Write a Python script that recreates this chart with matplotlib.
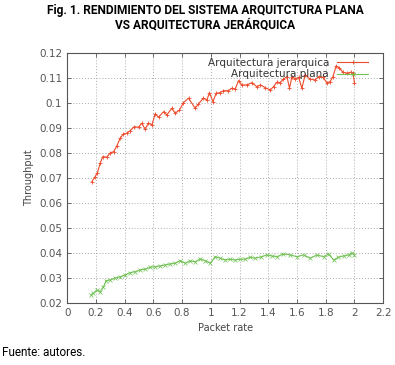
import matplotlib
matplotlib.use("Agg")
import numpy as np
from matplotlib import pyplot as plt

# Arquitectura jerarquica
x_jer = [0.172, 0.195, 0.211, 0.23, 0.248, 0.276, 0.30, 0.323, 0.346, 0.369,
         0.392, 0.415, 0.439, 0.467, 0.497, 0.52, 0.543, 0.566, 0.59, 0.613,
         0.636, 0.671, 0.694, 0.729, 0.752, 0.782, 0.81, 0.845, 0.891, 0.914,
         0.949, 0.973, 0.991, 1.015, 1.038, 1.065, 1.088, 1.123, 1.147, 1.17,
         1.193, 1.217, 1.251, 1.286, 1.321, 1.345, 1.379, 1.414, 1.437, 1.46,
         1.483, 1.506, 1.53, 1.548, 1.565, 1.588, 1.611, 1.634, 1.657, 1.692,
         1.727, 1.75, 1.78, 1.808, 1.831, 1.85, 1.873, 1.896, 1.92, 1.948,
         1.976, 1.99, 2.0]
y_jer = [0.0685, 0.0705, 0.0721, 0.0759, 0.0785, 0.0783, 0.0800, 0.0805, 0.0828, 0.0859,
         0.0876, 0.0879, 0.0889, 0.0905, 0.0903, 0.0919, 0.0895, 0.0919, 0.0912, 0.0956,
         0.0943, 0.0965, 0.0952, 0.0979, 0.0959, 0.0972, 0.1001, 0.1019, 0.0979, 0.0996,
         0.1019, 0.1012, 0.1041, 0.1005, 0.1039, 0.1041, 0.1049, 0.1049, 0.1059, 0.1055,
         0.1089, 0.1072, 0.1072, 0.1081, 0.1065, 0.1072, 0.1061, 0.1052, 0.1065, 0.1083,
         0.1081, 0.1095, 0.1105, 0.1059, 0.1105, 0.1095, 0.1103, 0.1059, 0.1112, 0.1095,
         0.1092, 0.1105, 0.1103, 0.1081, 0.1085, 0.1105, 0.1148, 0.1139, 0.1123, 0.1119,
         0.1123, 0.1121, 0.1081]

# Arquitectura plana
x_pla = [0.165, 0.183, 0.207, 0.23, 0.253, 0.272, 0.30, 0.334, 0.369, 0.404,
         0.439, 0.474, 0.508, 0.543, 0.578, 0.613, 0.648, 0.682, 0.717, 0.752,
         0.787, 0.822, 0.857, 0.891, 0.926, 0.961, 0.996, 1.031, 1.065, 1.10,
         1.135, 1.17, 1.205, 1.24, 1.274, 1.309, 1.35, 1.39, 1.425, 1.46,
         1.506, 1.553, 1.60, 1.646, 1.692, 1.739, 1.785, 1.82, 1.855, 1.889,
         1.924, 1.959, 1.982, 2.0]
y_pla = [0.0232, 0.0239, 0.0252, 0.0245, 0.0265, 0.0289, 0.0292, 0.0299, 0.0305, 0.0312,
         0.0321, 0.0325, 0.0332, 0.0335, 0.0343, 0.0345, 0.0348, 0.0352, 0.0356, 0.0359,
         0.0369, 0.0359, 0.0368, 0.0365, 0.0376, 0.0369, 0.0359, 0.0385, 0.0379, 0.0372,
         0.0375, 0.0372, 0.0375, 0.0375, 0.0383, 0.0379, 0.0384, 0.0392, 0.0388, 0.0385,
         0.0396, 0.0392, 0.0385, 0.0392, 0.0379, 0.0392, 0.0385, 0.0396, 0.0372, 0.0383,
         0.0388, 0.0392, 0.0401, 0.0392]

xticks = [0, 0.2, 0.4, 0.6, 0.8, 1, 1.2, 1.4, 1.6, 1.8, 2, 2.2]
xticklabels = ["0", "0.2", "0.4", "0.6", "0.8", "1", "1.2", "1.4", "1.6", "1.8", "2", "2.2"]
yticks = [0.02, 0.03, 0.04, 0.05, 0.06, 0.07, 0.08, 0.09, 0.1, 0.11, 0.12]
yticklabels = ["0.02", "0.03", "0.04", "0.05", "0.06", "0.07", "0.08", "0.09", "0.1", "0.11", "0.12"]

fig = plt.figure(figsize=(3.95, 3.65), dpi=100)
ax = fig.add_axes([0.170, 0.170, 0.800, 0.685])

ax.plot(x_jer, y_jer, color='#ee4b2b', lw=0.8, marker='+', ms=3.5, mew=0.6,
        label='Arquitectura jerarquica')
ax.plot(x_pla, y_pla, color='#72c255', lw=0.8, marker='x', ms=2.5, mew=0.5,
        label='Arquitectura plana')

ax.set_xlim(0, 2.2)
ax.set_ylim(0.02, 0.12)
ax.set_xticks(xticks)
ax.set_xticklabels(xticklabels)
ax.set_yticks(yticks)
ax.set_yticklabels(yticklabels)
ax.tick_params(direction='in', top=True, right=True, labelsize=7.5,
               labelcolor='#555555', length=3, width=0.6, color='#555555')
ax.grid(True, ls=(0, (1, 2)), color='#aaaaaa', lw=0.7)
for s in ax.spines.values():
    s.set_color('#555555')
    s.set_linewidth(0.8)

ax.set_xlabel("Packet rate", fontsize=7, color='#444444', labelpad=4)
ax.set_ylabel("Throughput", fontsize=7, color='#444444', labelpad=4)

leg = ax.legend(loc='upper right', frameon=False, markerfirst=False, fontsize=7.5,
                handlelength=3, borderaxespad=0.1, labelspacing=0.1,
                bbox_to_anchor=(0.97, 1.0))
for t in leg.get_texts():
    t.set_color('#333333')
    t.set_ha('right')

fig.text(0.52, 0.972, "Fig. 1. RENDIMIENTO DEL SISTEMA ARQUITCTURA PLANA",
         ha='center', va='center', fontsize=8.6, fontweight='bold', family='Roboto')
fig.text(0.52, 0.932, "VS ARQUITECTURA JERÁRQUICA",
         ha='center', va='center', fontsize=8.6, fontweight='bold', family='Roboto')
fig.text(0.005, 0.035, "Fuente: autores.", ha='left', va='center', fontsize=8.5,
         family='Roboto')

fig.savefig('out.png', dpi=100)
